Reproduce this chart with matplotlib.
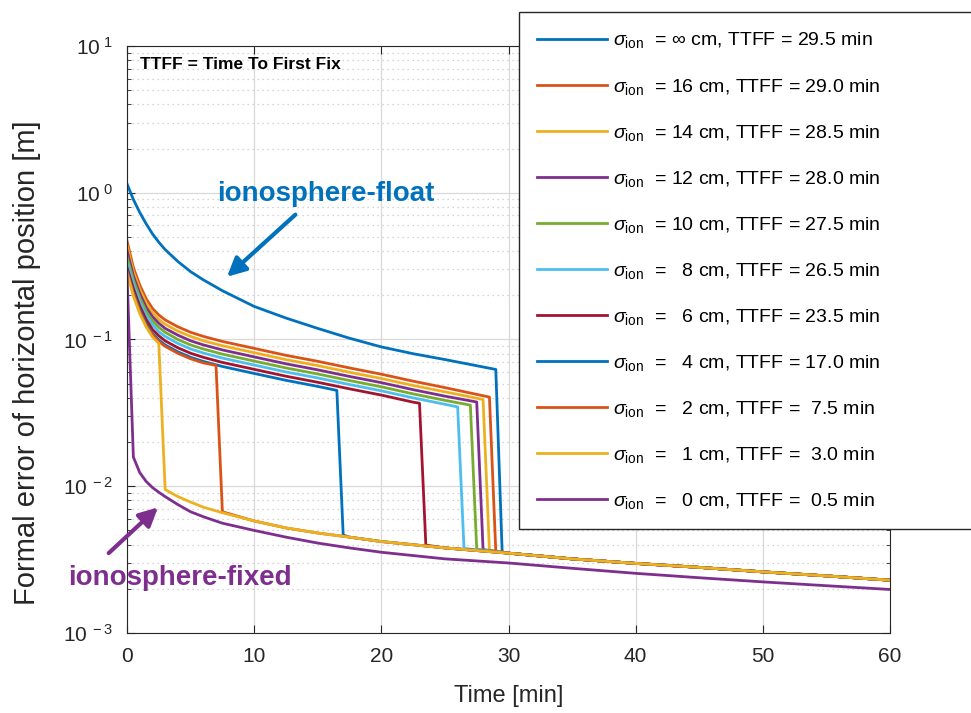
import matplotlib
matplotlib.use('Agg')
import matplotlib.pyplot as plt
from matplotlib.ticker import FixedLocator, FuncFormatter, LogLocator, NullFormatter
import numpy as np

plt.rcParams['font.family'] = ['Liberation Sans', 'DejaVu Sans']
plt.rcParams['mathtext.fontset'] = 'custom'
plt.rcParams['mathtext.rm'] = 'Liberation Sans'
plt.rcParams['mathtext.it'] = 'Liberation Sans:italic'

# sigma_ion settings (legend order) and time to first fix [min]
sigma_txt = ['$\\infty$', '16', '14', '12', '10', '8', '6', '4', '2', '1', '0']
ttff = [29.5, 29.0, 28.5, 28.0, 27.5, 26.5, 23.5, 17.0, 7.5, 3.0, 0.5]
colors = ['#0072BD', '#D95319', '#EDB120', '#7E2F8E', '#77AC30', '#4DBEEE',
          '#A2142F', '#0072BD', '#D95319', '#EDB120', '#7E2F8E']

# float solution: values at float_t, last value is the epoch before the fix (TTFF - 0.5)
float_t = [0, 0.5, 1, 1.5, 2, 2.5, 3, 4, 5, 6, 7.5, 10, 12.5, 15, 17.5, 20, 22.5, 25]
float_inf = [1.15, 0.90, 0.735, 0.615, 0.525, 0.46, 0.41, 0.34, 0.29, 0.255, 0.215, 0.168,
             0.14, 0.119, 0.102, 0.089, 0.08, 0.073, 0.0625]
float_16 = [0.47, 0.31, 0.235, 0.19, 0.163, 0.147, 0.136, 0.122, 0.112, 0.105, 0.097, 0.087,
            0.078, 0.071, 0.064, 0.058, 0.052, 0.047, 0.0405]
float_14 = [0.437, 0.29, 0.22, 0.178, 0.152, 0.137, 0.127, 0.114, 0.105, 0.098, 0.0907, 0.0813,
            0.0729, 0.0664, 0.0598, 0.0542, 0.0486, 0.044, 0.039]
float_12 = [0.404, 0.271, 0.206, 0.166, 0.143, 0.129, 0.119, 0.107, 0.098, 0.0919, 0.0849, 0.0761,
            0.0683, 0.0621, 0.056, 0.0508, 0.0455, 0.0411, 0.0375]
float_10 = [0.367, 0.254, 0.193, 0.156, 0.134, 0.121, 0.112, 0.1, 0.0918, 0.0861, 0.0795, 0.0713,
            0.064, 0.0582, 0.0525, 0.0476, 0.0426, 0.0385, 0.0357]
float_8 = [0.336, 0.239, 0.181, 0.146, 0.126, 0.113, 0.105, 0.094, 0.0862, 0.0809, 0.0747, 0.067,
           0.0601, 0.0547, 0.0493, 0.0447, 0.04, 0.0362, 0.0347]
float_6 = [0.31, 0.223, 0.169, 0.137, 0.117, 0.106, 0.0979, 0.0878, 0.0806, 0.0756, 0.0698, 0.0626,
           0.0562, 0.0511, 0.0461, 0.0418, 0.0374, 0.0368]
float_4 = [0.295, 0.209, 0.159, 0.128, 0.11, 0.0992, 0.0918, 0.0824, 0.0756, 0.0709, 0.0655, 0.0587,
           0.0527, 0.0479, 0.045]
float_2 = [0.29, 0.205, 0.155, 0.125, 0.108, 0.097, 0.0898, 0.0805, 0.0739, 0.0693, 0.0666]
float_1 = [0.285, 0.198, 0.15, 0.122, 0.104, 0.094]
float_0 = [0.28]
float_all = [float_inf, float_16, float_14, float_12, float_10, float_8,
             float_6, float_4, float_2, float_1, float_0]

# fixed solution: value at TTFF, then common tail for sigma_ion > 0
fixed_start = [0.00357, 0.0036, 0.00365, 0.0037, 0.00373, 0.00377, 0.00397, 0.00465, 0.0067, 0.0095]
fixed_t = [4, 5, 6, 7.5, 10, 12.5, 15, 17.5, 20, 25, 30, 35, 40, 45, 50, 55, 60]
fixed_vals = [0.0085, 0.0078, 0.0072, 0.0066, 0.0058, 0.0052, 0.0048, 0.0045, 0.0042, 0.0038,
              0.0035, 0.0032, 0.00298, 0.0028, 0.00261, 0.00245, 0.00229]
# sigma_ion = 0 cm
fixed0_t = [0.5, 1, 1.5, 2, 2.5, 3, 4, 5, 6, 7.5, 10, 12.5, 15, 17.5, 20, 25, 30,
            35, 40, 45, 50, 55, 60]
fixed0_vals = [0.0158, 0.0124, 0.0108, 0.0098, 0.0091, 0.0085, 0.0075, 0.0067, 0.0062, 0.0056,
               0.0050, 0.0045, 0.0041, 0.0038, 0.00355, 0.0032, 0.0030, 0.00276, 0.00255,
               0.00238, 0.00223, 0.0021, 0.00198]

fig = plt.figure(figsize=(9.71, 7.13), dpi=100)
ax = fig.add_axes([0.1308, 0.1122, 0.7858, 0.8233])

for i in range(len(ttff)):
    fv = float_all[i]
    n = len(fv) - 1
    t = list(float_t[:n]) + [ttff[i] - 0.5]
    y = list(fv)
    if i < len(fixed_start):
        t += [ttff[i]] + [x for x in fixed_t if x > ttff[i]]
        y += [fixed_start[i]] + [v for x, v in zip(fixed_t, fixed_vals) if x > ttff[i]]
    else:
        t += fixed0_t
        y += fixed0_vals
    pad = '  ' * (2 - len(sigma_txt[i])) if sigma_txt[i] != '$\\infty$' else ''
    ttxt = '%4.1f' % ttff[i]
    tpad = '  ' * (4 - len(ttxt))
    lab = '$\\sigma_{\\mathrm{ion}}$  = ' + pad + sigma_txt[i] + ' cm, TTFF = ' + tpad + ttxt + ' min'
    ax.plot(t, y, color=colors[i], lw=2.0, label=lab)

ax.set_yscale('log')
ax.set_xlim(0, 60)
ax.set_ylim(1e-3, 1e1)
ax.set_xticks(np.arange(0, 61, 10))
ax.yaxis.set_major_locator(FixedLocator([1e-3, 1e-2, 1e-1, 1e0, 1e1]))
ax.yaxis.set_minor_locator(LogLocator(base=10, subs=np.arange(2, 10), numticks=20))
ax.yaxis.set_minor_formatter(NullFormatter())
ax.yaxis.set_major_formatter(FuncFormatter(
    lambda v, p: '$\\mathregular{10^{\\ %d}}$' % int(round(np.log10(v)))))

ax.grid(True, which='major', color='#d9d9d9', lw=0.9)
ax.grid(True, which='minor', axis='y', color='#c8c8c8', lw=0.9, ls=(0, (1, 3)))
ax.set_axisbelow(True)
ax.tick_params(which='both', direction='in', top=True, right=True, labelsize=15,
               colors='#262626', pad=10)
ax.tick_params(which='major', length=6)
ax.tick_params(which='minor', length=3)
for s in ax.spines.values():
    s.set_color('#262626')

ax.set_xlabel('Time [min]', fontsize=17, color='#262626', labelpad=14)
ax.set_ylabel('Formal error of horizontal position [m]', fontsize=21, color='#262626')
ax.yaxis.set_label_coords(-0.113, 0.46)

ax.text(0.017, 0.969, 'TTFF = Time To First Fix', transform=ax.transAxes,
        fontsize=12.5, fontweight='bold', va='center', ha='left')

ax.annotate('', xy=(7.7, 0.26), xytext=(13.4, 0.73),
            arrowprops=dict(arrowstyle='-|>', color='#0072BD', lw=3, mutation_scale=28))
ax.text(15.6, 0.98, 'ionosphere-float', color='#0072BD', fontsize=20,
        fontweight='bold', ha='center', va='center')
ax.annotate('', xy=(2.6, 0.0074), xytext=(-1.6, 0.0034), annotation_clip=False,
            arrowprops=dict(arrowstyle='-|>', color='#7E2F8E', lw=3, mutation_scale=28))
ax.text(4.2, 0.00237, 'ionosphere-fixed', color='#7E2F8E', fontsize=20,
        fontweight='bold', ha='center', va='center', clip_on=False)

leg = fig.legend(loc='upper left', bbox_to_anchor=(519 / 971, 0.0, 0.5, 1 - 12 / 713),
                 mode='expand', borderaxespad=0,
                 fontsize=14, handlelength=3.6, handletextpad=0.3, labelspacing=1.34,
                 borderpad=0.95, frameon=True, fancybox=False, framealpha=1)
leg.get_frame().set_edgecolor('#262626')
leg.get_frame().set_linewidth(1.0)

fig.savefig('out.png', dpi=100)
